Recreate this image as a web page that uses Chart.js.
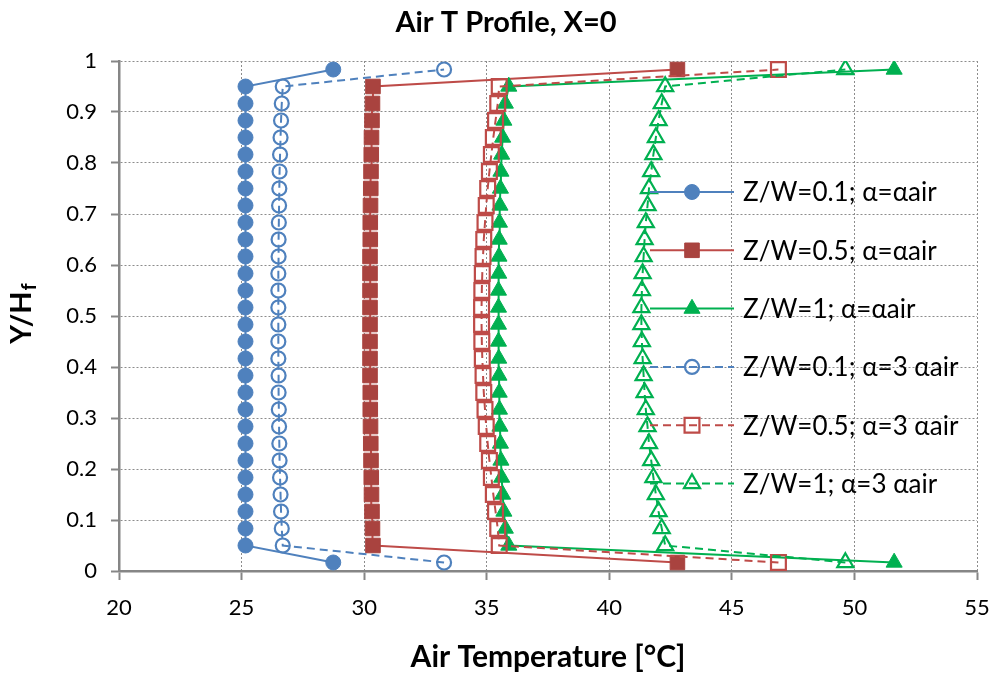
<!DOCTYPE html>
<html>
<head>
<meta charset="utf-8">
<script src="https://cdn.jsdelivr.net/npm/chart.js@4/dist/chart.umd.min.js"></script>
<style>
    html, body { margin: 0; padding: 0; background: #ffffff; }
    #grafico { width: 993px; height: 675px; }
</style>
</head>
<body>
<div id="grafico"><canvas id="perfilAr"></canvas></div>
<script>
// posicoes Y/Hf dos pontos (centro das celulas)
const alturas = [0.0167, 0.05, 0.0833, 0.1167, 0.15, 0.1833, 0.2167, 0.25, 0.2833, 0.3167,
    0.35, 0.3833, 0.4167, 0.45, 0.4833, 0.5167, 0.55, 0.5833, 0.6167, 0.65,
    0.6833, 0.7167, 0.75, 0.7833, 0.8167, 0.85, 0.8833, 0.9167, 0.95, 0.9833];

// temperaturas do ar [°C]
const zw01Ar = [28.74, 25.16, 25.16, 25.16, 25.16, 25.16, 25.16, 25.16, 25.16, 25.16,
    25.16, 25.16, 25.16, 25.16, 25.16, 25.16, 25.16, 25.16, 25.16, 25.16,
    25.16, 25.16, 25.16, 25.16, 25.16, 25.16, 25.16, 25.16, 25.16, 28.74];
const zw05Ar = [42.78, 30.36, 30.34, 30.32, 30.30, 30.29, 30.28, 30.27, 30.26, 30.25,
    30.25, 30.24, 30.24, 30.24, 30.24, 30.24, 30.24, 30.24, 30.24, 30.25,
    30.25, 30.26, 30.27, 30.28, 30.29, 30.30, 30.32, 30.34, 30.36, 42.78];
const zw1Ar = [51.62, 35.90, 35.76, 35.70, 35.65, 35.61, 35.58, 35.56, 35.54, 35.52,
    35.51, 35.50, 35.49, 35.48, 35.48, 35.48, 35.48, 35.49, 35.50, 35.51,
    35.52, 35.54, 35.56, 35.58, 35.61, 35.65, 35.70, 35.76, 35.90, 51.62];
const zw01Ar3 = [33.26, 26.68, 26.64, 26.61, 26.59, 26.57, 26.55, 26.54, 26.53, 26.52,
    26.51, 26.51, 26.50, 26.50, 26.50, 26.50, 26.50, 26.50, 26.51, 26.51,
    26.52, 26.53, 26.54, 26.55, 26.57, 26.59, 26.61, 26.64, 26.68, 33.26];
const zw05Ar3 = [46.90, 35.51, 35.45, 35.36, 35.27, 35.19, 35.11, 35.04, 34.98, 34.93,
    34.88, 34.85, 34.82, 34.80, 34.79, 34.79, 34.80, 34.82, 34.85, 34.88,
    34.93, 34.98, 35.04, 35.11, 35.19, 35.27, 35.36, 35.45, 35.51, 46.90];
const zw1Ar3 = [49.63, 42.28, 42.14, 42.01, 41.90, 41.80, 41.71, 41.62, 41.56, 41.49,
    41.44, 41.40, 41.36, 41.33, 41.31, 41.31, 41.33, 41.36, 41.40, 41.44,
    41.49, 41.56, 41.62, 41.71, 41.80, 41.90, 42.01, 42.14, 42.28, 49.63];

const nomesSeries = ['Z/W=0.1; α=αair', 'Z/W=0.5; α=αair', 'Z/W=1; α=αair',
    'Z/W=0.1; α=3 αair', 'Z/W=0.5; α=3 αair', 'Z/W=1; α=3 αair'];
const ticksX = ['20', '25', '30', '35', '40', '45', '50', '55'];
const ticksY = ['0', '0.1', '0.2', '0.3', '0.4', '0.5', '0.6', '0.7', '0.8', '0.9', '1'];
const titulo = 'Air T Profile, X=0';

const azul = '#4F81BD';
const vermelho = '#BE4B48';
const vermelhoEscuro = '#A9433F';
const verde = '#00B050';
const fonte = 'Lato, "Open Sans", sans-serif';

function pontos(valores) {
    return valores.map((v, i) => ({ x: v, y: alturas[i] }));
}

function serie(i, valores, cor, estilo, raio, preenchido, tracejado) {
    return {
        label: nomesSeries[i],
        data: pontos(valores),
        showLine: true,
        borderColor: cor,
        borderWidth: 2,
        borderDash: tracejado ? [8, 5] : [],
        pointStyle: estilo,
        pointRadius: raio,
        pointBorderWidth: preenchido ? 1 : 2.2,
        pointBorderColor: preenchido ? (preenchido === true ? cor : preenchido) : cor,
        pointBackgroundColor: preenchido ? (preenchido === true ? cor : preenchido) : 'rgba(0,0,0,0)',
        order: 6 - i
    };
}

// legenda desenhada dentro da area do grafico, como no Excel
const legendaPlugin = {
    id: 'legenda',
    afterDatasetsDraw(chart) {
        const ctx = chart.ctx;
        const area = chart.chartArea;
        const x0 = area.left + 531;
        const y0 = area.top + 131;
        ctx.save();
        chart.data.datasets.forEach((ds, i) => {
            const y = y0 + i * 58.3;
            ctx.strokeStyle = ds.borderColor;
            ctx.lineWidth = ds.borderWidth;
            ctx.setLineDash(ds.borderDash);
            ctx.beginPath();
            ctx.moveTo(x0, y);
            ctx.lineTo(x0 + 84, y);
            ctx.stroke();
            ctx.setLineDash([]);
            ctx.fillStyle = ds.pointBackgroundColor;
            ctx.strokeStyle = ds.pointBorderColor;
            ctx.lineWidth = ds.pointBorderWidth;
            Chart.helpers.drawPoint(ctx, {
                pointStyle: ds.pointStyle,
                radius: ds.pointRadius,
                borderWidth: ds.pointBorderWidth,
                rotation: 0
            }, x0 + 42, y);
            ctx.fillStyle = '#000000';
            ctx.font = '26px ' + fonte;
            ctx.textBaseline = 'middle';
            ctx.textAlign = 'left';
            ctx.fillText(ds.label, x0 + 93, y + 1);
        });
        ctx.restore();
    }
};

// titulo principal e titulo do eixo Y (com subscrito)
const titulosPlugin = {
    id: 'titulos',
    afterDraw(chart) {
        const ctx = chart.ctx;
        const area = chart.chartArea;
        ctx.save();
        ctx.fillStyle = '#000000';
        ctx.textBaseline = 'middle';
        ctx.textAlign = 'center';
        ctx.font = 'bold 29px ' + fonte;
        ctx.fillText(titulo, 506, 23);

        ctx.translate(22, (area.top + area.bottom) / 2 - 2);
        ctx.rotate(-Math.PI / 2);
        const principal = 'Y/H';
        const sub = 'f';
        ctx.font = 'bold 20px ' + fonte;
        const largSub = ctx.measureText(sub).width;
        ctx.font = 'bold 29px ' + fonte;
        const larg = ctx.measureText(principal).width;
        const inicio = -(larg + largSub) / 2;
        ctx.textAlign = 'left';
        ctx.fillText(principal, inicio, 0);
        ctx.font = 'bold 20px ' + fonte;
        ctx.fillText(sub, inicio + larg + 1, 8);
        ctx.restore();
    }
};

new Chart(document.getElementById('perfilAr'), {
    type: 'scatter',
    data: {
        datasets: [
            serie(0, zw01Ar, azul, 'circle', 7.5, true, false),
            serie(1, zw05Ar, vermelho, 'rect', 10.3, vermelhoEscuro, false),
            serie(2, zw1Ar, verde, 'triangle', 9.3, true, false),
            serie(3, zw01Ar3, azul, 'circle', 7, false, true),
            serie(4, zw05Ar3, vermelho, 'rect', 10.5, false, true),
            serie(5, zw1Ar3, verde, 'triangle', 9.3, false, true)
        ]
    },
    options: {
        responsive: true,
        maintainAspectRatio: false,
        animation: false,
        events: [],
        layout: { padding: { left: 0, right: 16, top: 61, bottom: 0 } },
        plugins: {
            legend: { display: false },
            tooltip: { enabled: false },
            title: { display: false }
        },
        scales: {
            x: {
                type: 'linear',
                min: 20,
                max: 55,
                afterFit(escala) {
                    escala.height = 104;
                    escala.paddingLeft = 0;
                    escala.paddingRight = 0;
                },
                ticks: {
                    stepSize: 5,
                    color: '#000000',
                    padding: 15,
                    font: { family: fonte, size: 22 },
                    callback: (v, i) => ticksX[i]
                },
                grid: {
                    color: '#8c8c8c',
                    lineWidth: 1,
                    tickColor: '#868686',
                    tickWidth: 2,
                    tickLength: 9
                },
                border: { color: '#868686', width: 2.5, dash: [2, 2] },
                title: {
                    display: true,
                    text: 'Air Temperature [°C]',
                    color: '#000000',
                    font: { family: fonte, size: 30, weight: 'bold', lineHeight: 1.2 },
                    padding: { top: 0, bottom: 0 }
                }
            },
            y: {
                type: 'linear',
                min: 0,
                max: 1,
                afterFit(escala) {
                    escala.width = 119;
                    escala.paddingTop = 0;
                    escala.paddingBottom = 0;
                },
                ticks: {
                    stepSize: 0.1,
                    color: '#000000',
                    padding: 14,
                    font: { family: fonte, size: 22 },
                    callback: (v, i) => ticksY[i]
                },
                grid: {
                    color: '#8c8c8c',
                    lineWidth: 1,
                    tickColor: '#868686',
                    tickWidth: 2,
                    tickLength: 8
                },
                border: { color: '#868686', width: 2.5, dash: [2, 2] }
            }
        }
    },
    plugins: [legendaPlugin, titulosPlugin]
});
</script>
</body>
</html>
